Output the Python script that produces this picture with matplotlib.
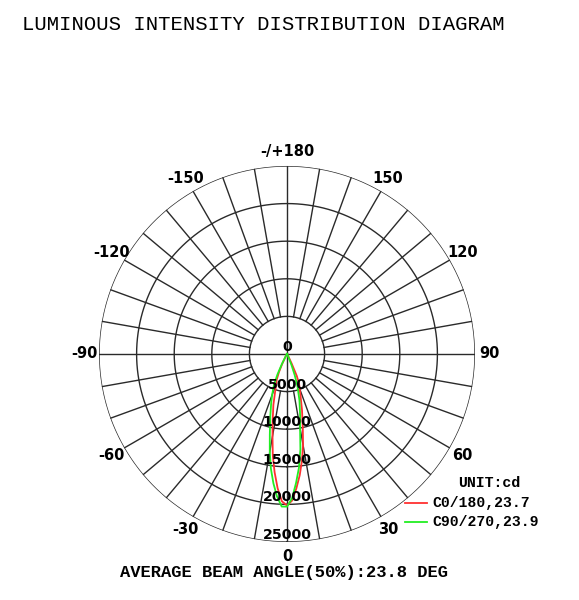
import matplotlib as mplt
mplt.use('Agg')
import numpy as np
import matplotlib.pyplot as plt

# intensity curves (angle in deg, intensity in cd)
c0_angles = [-90, -40, -30, -26, -24, -22, -20, -18, -15, -12, -10, -8, -6, -4, -2, 0,
             2, 4, 6, 8, 10, 12, 15, 18, 20, 22, 24, 26, 30, 40, 90]
c0_cd = [0, 50, 300, 1400, 2600, 3600, 4200, 5000, 7000, 9200, 11100, 13600, 15800, 17900, 19600, 20150,
         19500, 17900, 16200, 14300, 12300, 10100, 7700, 5800, 4900, 4300, 3200, 1400, 300, 50, 0]

c90_angles = [-90, -40, -30, -27, -25, -23, -20, -18, -15, -12, -10, -8, -6, -4, -2, 0,
              2, 4, 6, 8, 10, 12, 15, 18, 20, 22, 25, 30, 40, 90]
c90_cd = [0, 0, 300, 1500, 3000, 4400, 5800, 6800, 8600, 11000, 13200, 15400, 17300, 19000, 20300, 20300,
          19200, 17200, 15200, 12800, 10000, 8400, 6400, 4500, 3000, 1600, 400, 100, 0, 0]

ring_values = [5000, 10000, 15000, 20000, 25000]
radial_labels = ['0', '5000', '10000', '15000', '20000', '25000']
angle_ticks = [0, 30, 60, 90, 120, 150, 180, -150, -120, -90, -60, -30]
angle_labels = ['0', '30', '60', '90', '120', '150', '-/+180', '-150', '-120', '-90', '-60', '-30']

legend_names = ['C0/180,23.7', 'C90/270,23.9']
line_colours = ['#ff3030', '#22ee22']

rmax = 25000
grid_col = '#2a2a2a'

fig = plt.figure(figsize=(5.79, 6.00), dpi=100)
ax = fig.add_axes([0.171, 0.0967, 0.6494, 0.6267], projection='polar')
ax.set_theta_zero_location('S')
ax.set_theta_direction(1)
ax.set_ylim(0, rmax)
ax.grid(False)
ax.set_xticks([])
ax.set_yticks([])
ax.spines['polar'].set_visible(False)

# rings
tt = np.linspace(0, 2 * np.pi, 721)
for rv in ring_values:
    ax.plot(tt, np.full_like(tt, rv), color=grid_col, lw=1.0, zorder=1)

# spokes every 10 deg, main axes go through the centre
for a in range(0, 360, 10):
    th = np.deg2rad(a)
    r0 = 0 if a % 90 == 0 else ring_values[0]
    ax.plot([th, th], [r0, rmax], color=grid_col, lw=1.0, zorder=1)

# curves
for angs, vals, col in [(c0_angles, c0_cd, line_colours[0]), (c90_angles, c90_cd, line_colours[1])]:
    ax.plot(np.deg2rad(angs), vals, color=col, lw=1.3, zorder=3)

# radial value labels along the 0 deg axis
for i, lab in enumerate(radial_labels):
    ax.text(0, i * 5000, lab, ha='center', va='bottom', fontsize=10.2, fontweight='bold',
            family='DejaVu Sans', color='k', zorder=4)

# angle labels outside the outer ring
for a, lab in zip(angle_ticks, angle_labels):
    ax.text(np.deg2rad(a), 26900, lab, ha='center', va='center', fontsize=10.5,
            fontweight='bold', family='DejaVu Sans', color='k')

fig.text(22 / 579, 1 - 24 / 600, 'LUMINOUS INTENSITY DISTRIBUTION DIAGRAM', ha='left', va='center',
         fontsize=14.9, family='Liberation Mono', color='k')
fig.text(284.5 / 579, 1 - 572 / 600, 'AVERAGE BEAM ANGLE(50%):23.8 DEG', ha='center', va='center',
         fontsize=12.3, fontweight='bold', family='Liberation Mono', color='k')

# legend block
fig.text(489 / 579, 1 - 483 / 600, 'UNIT:cd', ha='center', va='center',
         fontsize=10.7, fontweight='bold', family='Liberation Mono', color='k')
for k, (name, col) in enumerate(zip(legend_names, line_colours)):
    y = 1 - (503 + 19 * k) / 600
    fig.add_artist(plt.Line2D([405 / 579, 427 / 579], [y, y], color=col, lw=1.3))
    fig.text(432 / 579, y, name, ha='left', va='center', fontsize=10.6, fontweight='bold',
             family='Liberation Mono', color='k')

fig.savefig('out.png', dpi=100, facecolor='white')
